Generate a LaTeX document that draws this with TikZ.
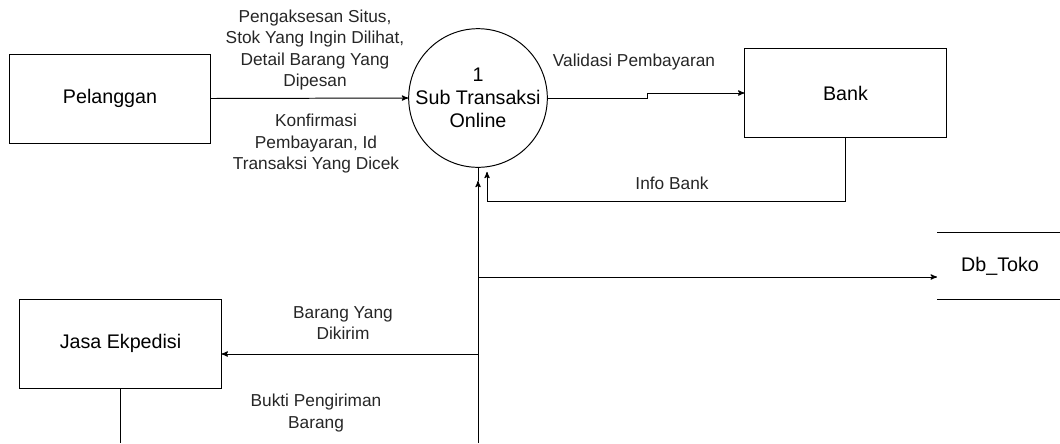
\documentclass[tikz,border=0pt]{standalone}
\usepackage{fontspec}
\setmainfont{Liberation Sans}
\usetikzlibrary{calc}
\usetikzlibrary{arrows}

\begin{document}
\begin{tikzpicture} [x=0.025cm, y=-0.025cm, line width=0.7pt,
  entity/.style={draw, rectangle, minimum width=5.025cm, minimum height=2.225cm, font=\fontsize{14}{16.4}\selectfont},
  proses/.style={draw, circle, minimum size=3.35cm, inner sep=0pt, align=center, font=\fontsize{14}{16.4}\selectfont},
  lbl/.style={align=center, font=\fontsize{12.3}{15.3}\selectfont, text=black!85},
  flow/.style={->, >=stealth'}]
\useasboundingbox (0,0) rectangle (1060,443);
\node[entity] (pel) at (110,98.5) {Pelanggan};
\node[proses] (proc) at (478,98) {1\\Sub Transaksi\\Online};
\node[entity] (bank) at (845.5,93) {Bank};
\node[entity] (jasa) at (120.5,343.5) {Jasa Ekpedisi};
\node[minimum width=3.125cm, minimum height=1.65cm, font=\fontsize{14}{16.4}\selectfont] (db) at (1000,266) {Db\_Toko};
\draw (db.north west) -- (db.north east);
\draw (db.south west) -- (db.south east);
\coordinate (tr) at (478,443);
\coordinate (j1) at (478,277);
\coordinate (j2) at (478,354);
\coordinate (jb) at (120.5,443);
\draw[flow] (pel.east) -- (proc.west);
\draw[flow] (proc.east) -- ++(100,0) |- (bank.west);
\draw[flow] (bank.south) |- ($(proc.south)+(9,34)$) -- ($(proc.south)+(9,4)$);
\draw[flow] (tr) -- ($(proc.south)+(0,13)$);
\draw (proc.south) -- ++(0,13);
\draw[flow] (j1) -- (db.west |- j1);
\draw[flow] (j2) -- (jasa.east |- j2);
\draw (jasa.south) -- (jb);
\node[lbl] (l1) at (315,50) {Pengaksesan Situs,\\Stok Yang Ingin Dilihat,\\Detail Barang Yang\\Dipesan};
\node[lbl] (l2) at (316,144) {Konfirmasi\\Pembayaran, Id\\Transaksi Yang Dicek};
\node[lbl] (l3) at (634,62) {Validasi Pembayaran};
\node[lbl] (l4) at (672,183) {Info Bank};
\node[lbl] (l5) at (343,323) {Barang Yang\\Dikirim};
\node[lbl] (l6) at (316,413) {Bukti Pengiriman\\Barang};
\end{tikzpicture}
\end{document}
